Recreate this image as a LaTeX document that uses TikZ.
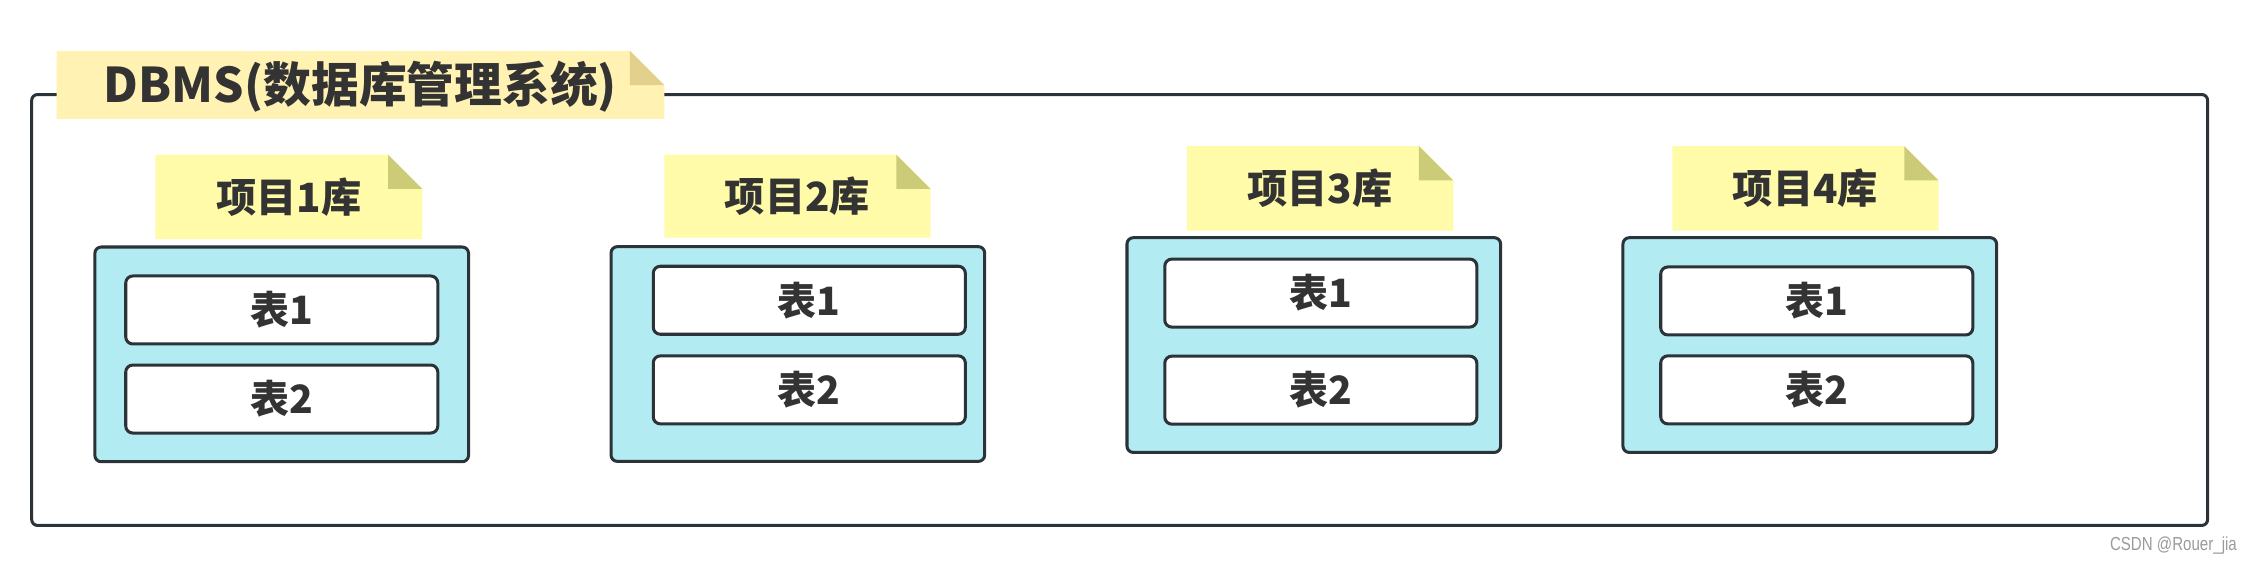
\documentclass[tikz,border=0pt]{standalone}
\usepackage{fontspec}
\newfontfamily\cjk{Noto Sans CJK SC}
\newfontfamily\wmfont{Liberation Sans}[FakeStretch=0.8]
\definecolor{bordc}{HTML}{2B3338}
\definecolor{txtc}{HTML}{333333}
\definecolor{titlefillc}{HTML}{FFF2B3}
\definecolor{titlefoldc}{HTML}{E3D08C}
\definecolor{projfillc}{HTML}{FFFBA8}
\definecolor{projfoldc}{HTML}{CCCC78}
\definecolor{boxc}{HTML}{B2EBF2}
\definecolor{wmc}{HTML}{9A9A9A}
\tikzset{
  titlefill/.style={fill=titlefillc},
  titlefold/.style={fill=titlefoldc},
  titletext/.style={font=\cjk\bfseries\fontsize{19}{22}\selectfont, text=txtc, inner sep=0pt, yshift=-0.03cm},
  projfill/.style={fill=projfillc},
  projfold/.style={fill=projfoldc},
  projtext/.style={font=\cjk\bfseries\fontsize{16}{19}\selectfont, text=txtc, inner sep=0pt},
  frame/.style={draw=bordc, line width=1.2pt, rounded corners=2.3pt, minimum width=30.4cm, minimum height=6.02cm, inner sep=0pt},
  dbbox/.style={draw=bordc, fill=boxc, line width=1.2pt, rounded corners=2.5pt, inner sep=0pt, minimum width=5.22cm, minimum height=3.0cm},
  tblbox/.style={draw=bordc, fill=white, line width=1.2pt, rounded corners=2.8pt, inner sep=0pt, minimum width=4.36cm, minimum height=0.95cm, font=\cjk\bfseries\fontsize{15.5}{18}\selectfont, text=txtc},
  watermark/.style={font=\wmfont\fontsize{7.5}{8}\selectfont, text=wmc, inner sep=0pt}
}
% name, L, T, R, B, fold, style prefix, text
\newcommand\mynote[8]{%
  \fill[#7fill] (#2,#3) -- (#4-#6,#3) -- (#4,#3+#6) -- (#4,#5) -- (#2,#5) -- cycle;
  \fill[#7fold] (#4-#6,#3) -- (#4-#6,#3+#6) -- (#4,#3+#6) -- cycle;
  \node[#7text] (#1) at ({(#2+#4)/2},{(#3+#5)/2}) {#8};%
}
\begin{document}
\begin{tikzpicture}[x=0.02cm, y=-0.02cm]
\useasboundingbox (0,0) rectangle (1568,392);
% outer frame
\node[frame] (dbms) at (782,216.5) {};
\mynote{title}{39.5}{35.5}{464}{83}{24}{title}{DBMS(数据库管理系统)}
% project notes
\mynote{n1}{108.5}{108}{295}{167}{24}{proj}{项目1库}
\mynote{n2}{464}{108}{650}{166}{24}{proj}{项目2库}
\mynote{n3}{829}{102}{1015}{161}{24}{proj}{项目3库}
\mynote{n4}{1168}{102}{1354}{161}{24}{proj}{项目4库}
% database boxes
\node[dbbox] (b1) at (196.75,247.5) {};
\node[dbbox] (b2) at (557.25,247.25) {};
\node[dbbox] (b3) at (917.6,241) {};
\node[dbbox] (b4) at (1264,241) {};
% tables
\node[tblbox] (b1t1) at (196.8,216.5) {表1};
\node[tblbox] (b1t2) at (196.8,278.7) {表2};
\node[tblbox] (b2t1) at (565.25,209.7) {表1};
\node[tblbox] (b2t2) at (565.25,272.3) {表2};
\node[tblbox] (b3t1) at (922.5,204.7) {表1};
\node[tblbox] (b3t2) at (922.5,272.5) {表2};
\node[tblbox] (b4t1) at (1268.9,210.2) {表1};
\node[tblbox] (b4t2) at (1268.9,272.3) {表2};
% watermark
\node[watermark] (wm) at (1518,381) {CSDN @Rouer\_jia};
\end{tikzpicture}
\end{document}
